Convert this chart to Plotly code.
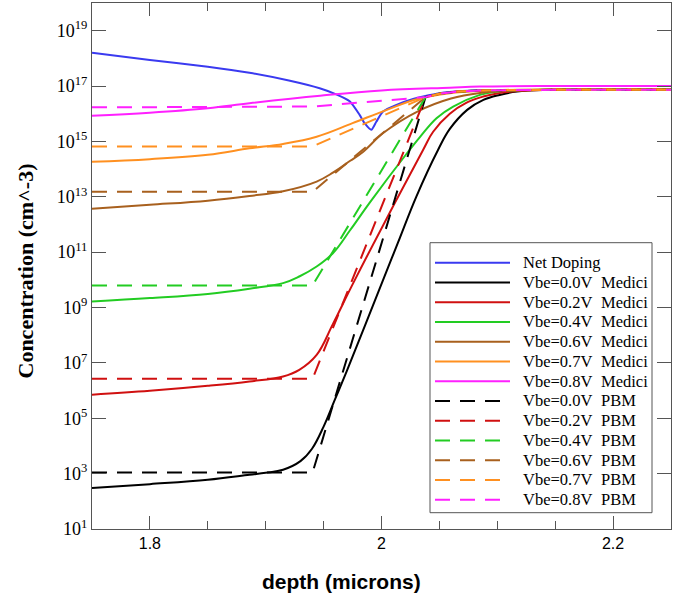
import numpy as np
import plotly.graph_objects as go

# ---------------- data (depth in microns, log10 of concentration in cm^-3) ----------------
doping_x = [1.75, 1.80, 1.85, 1.886, 1.92, 1.9466, 1.9614, 1.9725, 1.9811, 1.9854, 1.9912,
            1.9955, 2.0013, 2.0129, 2.0273, 2.036, 2.05, 2.07, 2.10, 2.25]
doping_log = [18.2, 17.94, 17.7, 17.48, 17.2, 16.92, 16.69, 16.45, 15.96, 15.66, 15.42,
              15.71, 16.08, 16.32, 16.53, 16.62, 16.74, 16.82, 16.86, 16.88]

med00_x = [1.75, 1.80, 1.85, 1.886, 1.90, 1.915, 1.93, 1.94, 1.95, 1.96, 1.97, 2.0014,
           2.0143, 2.030, 2.0489, 2.059, 2.074, 2.088, 2.102, 2.117, 2.146, 2.20, 2.25]
med00_log = [2.48, 2.62, 2.78, 2.96, 3.03, 3.14, 3.45, 3.9, 4.7, 5.7, 6.7, 10.0,
             11.35, 13.0, 14.7, 15.45, 16.14, 16.5, 16.68, 16.8, 16.86, 16.88, 16.88]

med02_x = [1.75, 1.80, 1.85, 1.886, 1.915, 1.929, 1.944, 1.958, 1.977, 2.036, 2.0446,
           2.059, 2.0735, 2.0878, 2.102, 2.117, 2.146, 2.25]
med02_log = [5.85, 5.99, 6.17, 6.33, 6.51, 6.75, 7.29, 8.4, 10.0, 14.7, 15.35,
             16.0, 16.4, 16.62, 16.75, 16.82, 16.87, 16.88]

med04_x = [1.75, 1.80, 1.85, 1.886, 1.915, 1.929, 1.944, 1.958, 1.973, 1.99, 2.0225,
           2.033, 2.0475, 2.0619, 2.085, 2.10, 2.13, 2.25]
med04_log = [9.22, 9.34, 9.49, 9.68, 9.88, 10.12, 10.48, 10.96, 11.8, 12.8, 14.6,
             15.15, 15.84, 16.26, 16.68, 16.8, 16.86, 16.88]

med06_x = [1.75, 1.80, 1.85, 1.886, 1.915, 1.944, 1.958, 1.973, 1.984, 2.002, 2.031,
           2.06, 2.085, 2.117, 2.15, 2.25]
med06_log = [12.57, 12.71, 12.86, 13.03, 13.2, 13.55, 13.87, 14.3, 14.62, 15.32, 16.08,
             16.55, 16.75, 16.84, 16.87, 16.88]

med07_x = [1.75, 1.80, 1.85, 1.886, 1.915, 1.944, 1.975, 2.004, 2.031, 2.059, 2.088,
           2.12, 2.25]
med07_log = [14.27, 14.36, 14.52, 14.75, 14.91, 15.17, 15.66, 16.13, 16.53, 16.74, 16.83,
             16.87, 16.88]

med08_x = [1.75, 1.80, 1.85, 1.886, 1.947, 2.00, 2.059, 2.085, 2.15, 2.25]
med08_log = [15.93, 16.04, 16.2, 16.38, 16.65, 16.84, 16.94, 16.98, 17.0, 17.0]

pbm_x = [1.75, 1.9405, 2.038, 2.05, 2.065, 2.085, 2.12, 2.25]
pbm00_log = [3.04, 3.04, 16.6, 16.72, 16.8, 16.84, 16.86, 16.87]
pbm02_log = [6.43, 6.43, 16.6, 16.72, 16.8, 16.84, 16.86, 16.87]
pbm04_log = [9.8, 9.8, 16.6, 16.72, 16.8, 16.84, 16.86, 16.87]
pbm06_log = [13.18, 13.18, 16.6, 16.72, 16.8, 16.84, 16.86, 16.87]
pbm07_log = [14.82, 14.82, 16.6, 16.72, 16.8, 16.84, 16.86, 16.87]
pbm08_log = [16.23, 16.26, 16.6, 16.72, 16.8, 16.84, 16.86, 16.87]

vbe_labels = ["Vbe=0.0V", "Vbe=0.2V", "Vbe=0.4V", "Vbe=0.6V", "Vbe=0.7V", "Vbe=0.8V"]
colors = ["#000000", "#d01010", "#22cc22", "#a8601e", "#ff9020", "#ff20ff"]
doping_color = "#3a3af0"

y_tick_exp = [1, 3, 5, 7, 9, 11, 13, 15, 17, 19]

# ---------------- figure ----------------
W, H = 682, 596
ML, MR, MT, MB = 92, 11, 3, 67
PW, PH = W - ML - MR, H - MT - MB

def px(xp):
    return (xp - ML) / PW

def py(yp):
    return (H - MB - yp) / PH

DASH = "15px,10px"
fig = go.Figure()

fig.add_trace(go.Scatter(x=doping_x, y=np.power(10.0, doping_log), mode="lines",
                         line=dict(color=doping_color, width=2, shape="spline", smoothing=0.6),
                         name="Net Doping", showlegend=False))

med_x = [med00_x, med02_x, med04_x, med06_x, med07_x, med08_x]
med_log = [med00_log, med02_log, med04_log, med06_log, med07_log, med08_log]
for xs, ls, c, lab in zip(med_x, med_log, colors, vbe_labels):
    fig.add_trace(go.Scatter(x=xs, y=np.power(10.0, ls), mode="lines",
                             line=dict(color=c, width=2, shape="spline", smoothing=1.1),
                             name=lab + " Medici", showlegend=False))

pbm_log = [pbm00_log, pbm02_log, pbm04_log, pbm06_log, pbm07_log, pbm08_log]
for ls, c, lab in zip(pbm_log, colors, vbe_labels):
    fig.add_trace(go.Scatter(x=pbm_x, y=np.power(10.0, ls), mode="lines",
                             line=dict(color=c, width=2, dash=DASH),
                             name=lab + " PBM", showlegend=False))

axis_col = "#555555"
fig.update_xaxes(range=[1.75, 2.25], tick0=1.8, dtick=0.2, ticks="inside", ticklen=13,
                 tickcolor=axis_col, showline=True, linecolor=axis_col, linewidth=1,
                 mirror="ticks", showgrid=False, zeroline=False,
                 tickfont=dict(family="Liberation Sans", size=16, color="black"),
                 minor=dict(tickmode="linear", tick0=1.75, dtick=0.05, ticks="inside",
                            ticklen=8, tickcolor=axis_col, showgrid=False))
fig.update_yaxes(type="log", range=[1, 20], tickmode="array",
                 tickvals=[10.0 ** e for e in y_tick_exp],
                 ticktext=["10<sup>%d</sup>" % e for e in y_tick_exp],
                 ticks="inside", ticklen=14, tickcolor=axis_col, showline=True,
                 linecolor=axis_col, linewidth=1, mirror="ticks", showgrid=False,
                 zeroline=False,
                 tickfont=dict(family="Liberation Serif", size=18, color="black"))

shapes = []
annotations = []
# legend box
shapes.append(dict(type="rect", xref="paper", yref="paper", x0=px(430), x1=px(652),
                   y0=py(512.7), y1=py(242.7), line=dict(color=axis_col, width=1),
                   fillcolor="white", layer="above"))
entries = [("Net Doping", "", doping_color, "solid")]
entries += [(l, "Medici", c, "solid") for l, c in zip(vbe_labels, colors)]
entries += [(l, "PBM", c, DASH) for l, c in zip(vbe_labels, colors)]
legfont = dict(family="Liberation Serif", size=16.5, color="black")
for i, (t1, t2, c, d) in enumerate(entries):
    yy = 262.7 + 19.75 * i
    shapes.append(dict(type="line", xref="paper", yref="paper", x0=px(435), x1=px(510),
                       y0=py(yy), y1=py(yy), line=dict(color=c, width=2, dash=d),
                       layer="above"))
    annotations.append(dict(text=t1, xref="paper", yref="paper", x=px(521), y=py(yy),
                            xanchor="left", yanchor="middle", showarrow=False, font=legfont))
    if t2:
        annotations.append(dict(text=t2, xref="paper", yref="paper", x=px(599), y=py(yy),
                                xanchor="left", yanchor="middle", showarrow=False,
                                font=legfont))

annotations.append(dict(text="<b>depth (microns)</b>", xref="paper", yref="paper",
                        x=px(341.7), y=py(581), xanchor="center", yanchor="middle",
                        showarrow=False,
                        font=dict(family="Liberation Sans", size=21, color="black")))
annotations.append(dict(text="<b>Concentration (cm^-3)</b>", xref="paper", yref="paper",
                        x=px(25), y=py(271.5), xanchor="center", yanchor="middle",
                        textangle=-90, showarrow=False,
                        font=dict(family="Liberation Serif", size=22, color="black")))

fig.update_layout(width=W, height=H, margin=dict(l=ML, r=MR, t=MT, b=MB),
                  paper_bgcolor="white", plot_bgcolor="white", showlegend=False,
                  shapes=shapes, annotations=annotations)

fig.write_html("out.html")
